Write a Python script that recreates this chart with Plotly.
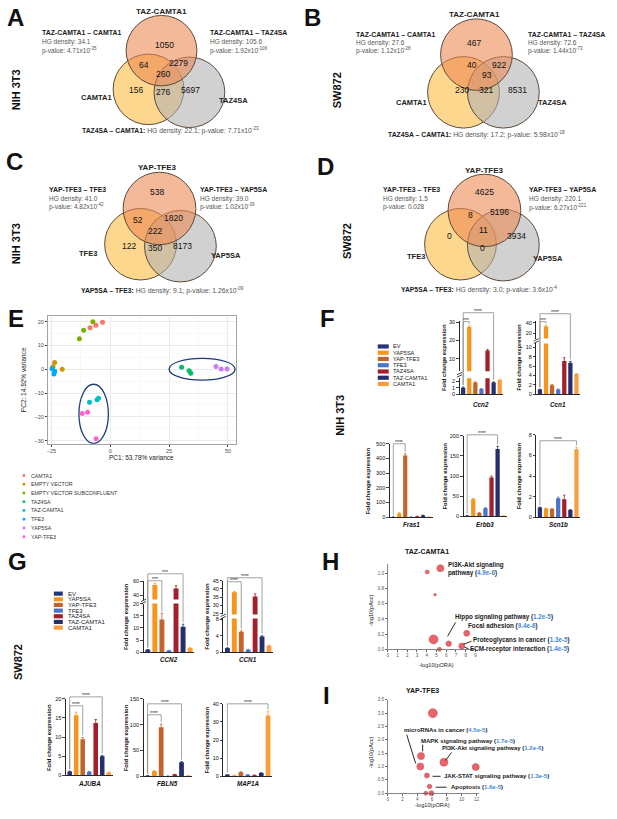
import plotly.graph_objects as go

W, H = 617, 819
def PX(x): return x / W
def PY(y): return 1 - y / H
FONT = "Liberation Sans, Arial, sans-serif"

# ===================== DATA =====================
# Venn regions: top only, top&left, top&right, all three, left only, left&right, right only
vennA_sets = ["TAZ-CAMTA1", "CAMTA1", "TAZ4SA"]
vennA_counts = [1050, 64, 2279, 260, 156, 276, 5697]
vennA_hg = ["34.1", "105.6", "22.1"]
vennA_p = ["4.71x10<sup>-35</sup>", "1.92x10<sup>-106</sup>", "7.71x10<sup>-23</sup>"]

vennB_sets = ["TAZ-CAMTA1", "CAMTA1", "TAZ4SA"]
vennB_counts = [467, 40, 922, 93, 230, 321, 8531]
vennB_hg = ["27.6", "72.6", "17.2"]
vennB_p = ["1.12x10<sup>-28</sup>", "1.44x10<sup>-73</sup>", "5.98x10<sup>-18</sup>"]

vennC_sets = ["YAP-TFE3", "TFE3", "YAP5SA"]
vennC_counts = [538, 52, 1820, 222, 122, 350, 8173]
vennC_hg = ["41.0", "39.0", "9.1"]
vennC_p = ["4.82x10<sup>-42</sup>", "1.02x10<sup>-39</sup>", "1.26x10<sup>-09</sup>"]

vennD_sets = ["YAP-TFE3", "TFE3", "YAP5SA"]
vennD_counts = [4625, 8, 5196, 11, 0, 0, 3934]
vennD_hg = ["1.5", "220.1", "3.0"]
vennD_p = ["0.028", "6.27x10<sup>-221</sup>", "3.6x10<sup>-4</sup>"]

# PCA (panel E)
pca_groups = ["CAMTA1", "EMPTY VECTOR", "EMPTY VECTOR SUBCONFLUENT", "TAZ4SA",
              "TAZ-CAMTA1", "TFE3", "YAP5SA", "YAP-TFE3"]
pca_pc1 = [[-8.6, -6.1, -3.3], [-23.6, -20.4, -24.3], [-13.1, -11.3, -7.4], [30.3, 33.5, 34.2],
           [-8.8, -5.6, -5.0], [-24.7, -23.6, -23.9], [44.9, 47.1, 49.6], [-11.9, -9.6, -6.0]]
pca_pc2 = [[17.4, 18.5, 19.7], [2.8, 0.0, 1.0], [12.8, 16.4, 20.0], [0.8, -0.6, -1.7],
           [-13.9, -12.8, -12.2], [0.2, -0.8, -2.0], [1.2, 0.1, 0.1], [-18.6, -18.1, -29.2]]
pca_var = ["53.78", "14.92"]

# qPCR bars
conditions = ["EV", "YAP5SA", "YAP-TFE3", "TFE3", "TAZ4SA", "TAZ-CAMTA1", "CAMTA1"]
ccn2_f = [1.0, 27.5, 1.8, 0.8, 14.5, 1.8, 2.2]
ccn2_f_err = [0.1, 0.6, 0.1, 0.05, 0.6, 0.1, 0.1]
ccn1_f = [1.0, 33.0, 1.9, 1.0, 7.1, 6.7, 4.3]
ccn1_f_err = [0.05, 2.0, 0.2, 0.1, 0.7, 0.3, 0.1]
fras1_f = [1.0, 25, 420, 1.0, 5, 12, 1.0]
fras1_f_err = [0.2, 5, 12, 0.2, 1, 2, 0.2]
erbb3_f = [1.0, 42, 8, 20, 96, 167, 1.0]
erbb3_f_err = [0.1, 2, 1.5, 1.5, 4, 7, 0.1]
scn1b_f = [0.95, 0.85, 0.8, 1.85, 1.75, 0.7, 6.6]
scn1b_f_err = [0.03, 0.03, 0.03, 0.1, 0.4, 0.03, 0.2]

ccn2_g = [1.0, 55, 13.5, 0.7, 50, 10.5, 1.7]
ccn2_g_err = [0.1, 2.5, 2.5, 0.1, 4, 1.0, 0.2]
ccn1_g = [1.0, 38, 5.0, 0.6, 35.5, 3.8, 1.6]
ccn1_g_err = [0.1, 0.5, 0.2, 0.1, 1.5, 0.2, 0.1]
ajuba_g = [1.0, 15.7, 9.4, 0.9, 13.7, 5.0, 0.7]
ajuba_g_err = [0.1, 0.8, 0.5, 0.1, 0.9, 0.2, 0.1]
fbln5_g = [1.0, 10, 95, 0.5, 3.5, 27, 1.0]
fbln5_g_err = [0.1, 1, 6, 0.1, 0.3, 1.5, 0.1]
map1a_g = [0.8, 0.5, 2.3, 0.8, 0.6, 1.8, 33.5]
map1a_g_err = [0.1, 0.1, 0.2, 0.1, 0.1, 0.2, 2.5]

# Pathway enrichment (H, I)
H_x = [5.4, 4.05, 4.85, 4.7, 6.25, 8.1, 7.6, 5.3]
H_y = [1.07, 1.02, 0.72, 0.13, 0.073, 0.21, 0.043, 0.0]
H_size = [7, 4, 2.5, 9, 5.5, 6, 6, 4]
H_terms = ["PI3K-Akt signaling pathway", "Hippo signaling pathway", "Focal adhesion",
           "Proteoglycans in cancer", "ECM-receptor interaction"]
H_pvals = ["4.9e-6", "1.2e-5", "9.4e-6", "1.3e-5", "1.4e-5"]

I_x = [6.1, 4.5, 4.4, 7.6, 11.9, 5.3, 5.65, 5.15, 5.9]
I_y = [3.0, 1.39, 1.0, 1.16, 0.98, 0.66, 0.25, 0.0, 0.0]
I_size = [9, 7, 7, 8, 7, 5, 4.5, 4, 5]
I_terms = ["microRNAs in cancer", "MAPK signaling pathway", "PI3K-Akt signaling pathway",
           "JAK-STAT signaling pathway", "Apoptosis"]
I_pvals = ["4.5e-5", "1.7e-5", "1.2e-6", "1.3e-5", "1.6e-5"]

# ===================== STYLE / LAYOUT =====================
pca_colors = ["#F8766D", "#CD9600", "#7CAE00", "#00BE67", "#00BFC4", "#00A9FF", "#C77CFF", "#FF61CC"]
cond_colors = ["#27337A", "#F7941D", "#C1652B", "#4A74C9", "#A21F2B", "#262E6B", "#F89C3C"]

ann, shp = [], []

def text(x, y, s, size=7, color="#222", bold=False, italic=False, xanchor="center",
         yanchor="middle", angle=0):
    if bold:
        s = "<b>" + s + "</b>"
    if italic:
        s = "<i>" + s + "</i>"
    ann.append(dict(x=PX(x), y=PY(y), xref="paper", yref="paper", text=s, showarrow=False,
                    font=dict(family=FONT, size=size, color=color), xanchor=xanchor,
                    yanchor=yanchor, textangle=angle, align="left", borderpad=0))

def pline(x0, y0, x1, y1, color="#111", width=0.8):
    shp.append(dict(type="line", xref="paper", yref="paper", x0=PX(x0), y0=PY(y0),
                    x1=PX(x1), y1=PY(y1), line=dict(color=color, width=width)))

fig = go.Figure()
axes_layout = {}
n_ax = [0]

def new_axes(x0, x1, ytop, ybot, xcfg, ycfg):
    n_ax[0] += 1
    s = "" if n_ax[0] == 1 else str(n_ax[0])
    axes_layout["xaxis" + s] = dict(domain=[PX(x0), PX(x1)], anchor="y" + s, **xcfg)
    axes_layout["yaxis" + s] = dict(domain=[PY(ybot), PY(ytop)], anchor="x" + s, **ycfg)
    return "x" + s, "y" + s

# ---------- Venn ----------
venn_layouts = [
    dict(sets=vennA_sets, counts=vennA_counts, hg=vennA_hg, p=vennA_p,
         top=(161, 48, 35.5), left=(148, 87, 35.5), right=(189, 90, 35.5),
         nums=[(164, 42), (143, 62), (178, 60), (163, 72), (135, 88), (163, 90), (190, 88)],
         title=(161, 9), lab_l=(112, 95), lab_r=(218, 98), blk_l=40, blk_r=209, blk_y=(30, 39, 48),
         bottom=(170, 128)),
    dict(sets=vennB_sets, counts=vennB_counts, hg=vennB_hg, p=vennB_p,
         top=(477, 52, 36), left=(464, 90, 36), right=(504, 90, 36),
         nums=[(475, 40), (473, 62), (500, 62), (488, 73), (462, 88), (487, 88), (518, 88)],
         title=(475, 12), lab_l=(428, 100), lab_r=(538, 100), blk_l=355, blk_r=528,
         blk_y=(32, 40, 48), bottom=(477, 132)),
    dict(sets=vennC_sets, counts=vennC_counts, hg=vennC_hg, p=vennC_p,
         top=(159, 207, 36.5), left=(140, 243, 36), right=(180, 245, 36),
         nums=[(157, 190), (137, 219), (173, 217), (155, 230), (128, 245), (155, 247), (182, 245)],
         title=(157, 166), lab_l=(97, 252), lab_r=(210, 254), blk_l=47, blk_r=199,
         blk_y=(188, 197, 205), bottom=(162, 290)),
    dict(sets=vennD_sets, counts=vennD_counts, hg=vennD_hg, p=vennD_p,
         top=(485, 209, 36.5), left=(461, 243, 36), right=(504, 244, 36),
         nums=[(485, 190), (471, 214), (500, 211), (484, 229), (450, 235), (483, 247), (517, 235)],
         title=(485, 169), lab_l=(426, 255), lab_r=(533, 257), blk_l=382, blk_r=529,
         blk_y=(188, 197, 206), bottom=(480, 289)),
]
venn_fills = ["rgba(253,200,100,0.72)", "rgba(175,175,175,0.58)", "rgba(236,135,80,0.58)"]
for L in venn_layouts:
    for (cx, cy, r), fc in zip([L["left"], L["right"], L["top"]], venn_fills):
        shp.append(dict(type="circle", xref="paper", yref="paper", x0=PX(cx - r), x1=PX(cx + r),
                        y0=PY(cy + r), y1=PY(cy - r), fillcolor=fc,
                        line=dict(color="#5a4a3c", width=1), layer="above"))
    for (x, y), c in zip(L["nums"], L["counts"]):
        text(x, y, str(c), size=8.5, color="#111")
    sets, hg, p = L["sets"], L["hg"], L["p"]
    text(*L["title"], sets[0], size=8, bold=True)
    text(*L["lab_l"], sets[1], size=7.5, bold=True, xanchor="right")
    text(*L["lab_r"], sets[2], size=7.5, bold=True, xanchor="left")
    for bx, k, other in [(L["blk_l"], 0, sets[1]), (L["blk_r"], 1, sets[2])]:
        y1, y2, y3 = L["blk_y"]
        text(bx, y1, sets[0] + " – " + other, size=6.9, bold=True, xanchor="left", color="#1a1a1a")
        text(bx, y2, "HG density: " + hg[k], size=6.5, xanchor="left", color="#555")
        text(bx, y3, "p-value: " + p[k], size=6.5, xanchor="left", color="#555")
    text(*L["bottom"], "<b>" + sets[2] + " – " + sets[1] + ":</b><span style='color:#555'> HG density: "
         + hg[2] + "; p-value: " + p[2] + "</span>", size=6.8, color="#1a1a1a")

# ---------- PCA ----------
grid_common = dict(showgrid=True, gridcolor="#E6E6E6", gridwidth=0.8, zeroline=False,
                   showline=True, mirror=True, linecolor="#8C8C8C", linewidth=0.8,
                   ticks="outside", ticklen=2, tickcolor="#444",
                   tickfont=dict(size=5.5, color="#4D4D4D"), fixedrange=True)
ex = dict(range=[-26.5, 53.5], tickvals=[-25, 0, 25, 50],
          minor=dict(tickvals=[-12.5, 12.5, 37.5], showgrid=True, gridcolor="#F2F2F2", gridwidth=0.5),
          **grid_common)
ey = dict(range=[-31.3, 22.5], tickvals=[-30, -20, -10, 0, 10, 20],
          minor=dict(tickvals=[-25, -15, -5, 5, 15], showgrid=True, gridcolor="#F2F2F2", gridwidth=0.5),
          **grid_common)
xa, ya = new_axes(47, 236, 315, 444, ex, ey)
for g, c, xs, ys in zip(pca_groups, pca_colors, pca_pc1, pca_pc2):
    fig.add_trace(go.Scatter(x=xs, y=ys, mode="markers", name=g, xaxis=xa, yaxis=ya,
                             marker=dict(size=5, color=c, line=dict(width=0)), showlegend=False))
for (ex0, ex1, ey0, ey1) in [(25.0, 53.0, -4.6, 4.6), (-13.3, -0.8, -31.2, -6.3)]:
    shp.append(dict(type="circle", xref=xa, yref=ya, x0=ex0, x1=ex1, y0=ey0, y1=ey1,
                    line=dict(color="#1F3A7A", width=1.3)))
text(141, 458, "PC1: " + pca_var[0] + "% variance", size=6.5, color="#222")
text(22, 379, "PC2: " + pca_var[1] + "% variance", size=6.5, color="#222", angle=-90)
for i, (g, c) in enumerate(zip(pca_groups, pca_colors)):
    y = 476 + 8.8 * i
    shp.append(dict(type="circle", xref="paper", yref="paper", x0=PX(21.5), x1=PX(24.5),
                    y0=PY(y + 1.5), y1=PY(y - 1.5), fillcolor=c, line=dict(width=0)))
    text(29, y, g, size=5.3, color="#333", xanchor="left")

# ---------- Bar charts ----------
XR = (-0.6, 6.6)

def seg_px(seg, v):
    top, bot, lo, hi, _ = seg
    v = min(max(v, lo), hi)
    return bot - (v - lo) / (hi - lo) * (bot - top)

def top_px(segs, v):
    for s in segs:
        if v >= s[2]:
            return seg_px(s, v)
    return seg_px(segs[-1], v)

bar_layouts = [
    dict(vals=ccn2_f, errs=ccn2_f_err, gene="Ccn2", x=(460, 504),
         segs=[(320, 371, 3, 31, [10, 20, 30]), (378, 394, 0, 2.46, [0, 1, 2])],
         gene_y=404, tdx=15, br=[(0, 1, 321, "***"), (0, 5, 312, "****")]),
    dict(vals=ccn1_f, errs=ccn1_f_err, gene="Ccn1", x=(537, 581),
         segs=[(320, 338, 10, 44, [20, 40]), (343, 394, 0, 10.85, [0, 2, 4, 6, 8, 10])],
         gene_y=404, tdx=17, br=[(0, 1, 321, "***"), (0, 5, 313, "****")]),
    dict(vals=fras1_f, errs=fras1_f_err, gene="Fras1", x=(390, 433),
         segs=[(444, 518, 0, 500, [0, 100, 200, 300, 400, 500])],
         gene_y=525, tdx=21, br=[(0, 2, 444, "****")]),
    dict(vals=erbb3_f, errs=erbb3_f_err, gene="Erbb3", x=(464, 508),
         segs=[(436, 517, 0, 200, [0, 50, 100, 150, 200])],
         gene_y=525, tdx=19, br=[(0, 5, 435, "****")]),
    dict(vals=scn1b_f, errs=scn1b_f_err, gene="Scn1b", x=(537, 581),
         segs=[(435, 518, 0, 8, [0, 2, 4, 6, 8])],
         gene_y=525, tdx=17, br=[(0, 6, 441, "****")]),
    dict(vals=ccn2_g, errs=ccn2_g_err, gene="CCN2", x=(143, 194),
         segs=[(582, 601, 34, 61, [40, 60]), (605, 654, 0, 20, [0, 5, 10, 15, 20])],
         gene_y=661, tdx=17, br=[(0, 2, 582, "***"), (0, 5, 575, "***")]),
    dict(vals=ccn1_g, errs=ccn1_g_err, gene="CCN1", x=(223, 273),
         segs=[(582, 616, 24.5, 45, [25, 30, 35, 40, 45]), (620, 654, 0, 8.2, [0, 4, 8])],
         gene_y=661, tdx=16, br=[(0, 2, 583, "****"), (0, 5, 579, "****")]),
    dict(vals=ajuba_g, errs=ajuba_g_err, gene="AJUBA", x=(65, 112),
         segs=[(701, 778, 0, 20, [0, 5, 10, 15, 20])],
         gene_y=786, tdx=17, br=[(0, 2, 708, "****"), (0, 5, 699, "****")]),
    dict(vals=fbln5_g, errs=fbln5_g_err, gene="FBLN5", x=(143, 192),
         segs=[(701, 779, 0, 150, [0, 50, 100, 150])],
         gene_y=786, tdx=18, br=[(0, 2, 717, "****"), (0, 5, 706, "****")]),
    dict(vals=map1a_g, errs=map1a_g_err, gene="MAP1A", x=(223, 272),
         segs=[(706, 779, 0, 40, [0, 10, 20, 30, 40])],
         gene_y=786, tdx=16, br=[(0, 6, 706, "****")]),
]

for B in bar_layouts:
    x0, x1 = B["x"]
    nseg = len(B["segs"])
    for k, seg in enumerate(B["segs"]):
        top, bot, lo, hi, tv = seg
        is_lower = (k == nseg - 1)
        xcfg = dict(type="category", categoryorder="array", categoryarray=conditions,
                    range=list(XR), showticklabels=False, ticks="", showgrid=False,
                    zeroline=False, showline=is_lower, linecolor="#111", linewidth=0.9,
                    fixedrange=True)
        ycfg = dict(range=[lo, hi], tickvals=tv, showgrid=False, zeroline=False,
                    showline=True, linecolor="#111", linewidth=0.9, ticks="outside",
                    ticklen=2.5, tickwidth=0.8, tickcolor="#111",
                    tickfont=dict(size=5.5, color="#111"), fixedrange=True)
        bxa, bya = new_axes(x0, x1, top, bot, xcfg, ycfg)
        for i, c in enumerate(conditions):
            fig.add_trace(go.Bar(x=[c], y=[B["vals"][i]], xaxis=bxa, yaxis=bya, width=0.7,
                                 marker=dict(color=cond_colors[i], line=dict(width=0)),
                                 error_y=dict(type="data", array=[B["errs"][i]], visible=True,
                                              color=cond_colors[i], thickness=0.8, width=1.2),
                                 showlegend=False, name=c))
        if not is_lower:
            # axis-break marks
            nxt_top = B["segs"][k + 1][0]
            yg = (bot + nxt_top) / 2
            for dy in (-1.2, 1.2):
                pline(x0 - 2.5, yg + dy + 1.2, x0 + 2.5, yg + dy - 1.2, color="#111", width=0.8)
    ytop_all = B["segs"][0][0]
    ybot_all = B["segs"][-1][1]
    text(x0 - B["tdx"], (ytop_all + ybot_all) / 2, "Fold change expression", size=5.8,
         bold=True, color="#111", angle=-90)
    text((x0 + x1) / 2, B["gene_y"], B["gene"], size=6.3, bold=True, italic=True, color="#111")

    def cat_px(i):
        return x0 + (i - XR[0]) / (XR[1] - XR[0]) * (x1 - x0)

    for (i0, i1, ypx, stars) in B["br"]:
        for ii in (i0, i1):
            yb = top_px(B["segs"], B["vals"][ii] + B["errs"][ii]) - 2
            pline(cat_px(ii), ypx, cat_px(ii), yb, color="#8a8a8a", width=0.8)
        pline(cat_px(i0), ypx, cat_px(i1), ypx, color="#8a8a8a", width=0.8)
        text((cat_px(i0) + cat_px(i1)) / 2, ypx - 1.8, stars, size=5, color="#222")

# bar legends
for (sx0, sx1, tx, y0, dy, fs) in [(378, 389, 392, 346, 6.3, 5.6), (53, 62, 66, 595, 5.7, 6.0)]:
    for i, c in enumerate(conditions):
        y = y0 + dy * i
        shp.append(dict(type="rect", xref="paper", yref="paper", x0=PX(sx0), x1=PX(sx1),
                        y0=PY(y + 2.1), y1=PY(y - 2.1), fillcolor=cond_colors[i], line=dict(width=0)))
        text(tx, y, c, size=fs, color="#222", xanchor="left")

# ---------- Enrichment scatter ----------
def enrich_axes(x0, x1, ytop, ybot, xr, xt, yr, yt, yfmt):
    xcfg = dict(range=xr, tickvals=xt, showgrid=False, zeroline=False, showline=True,
                linecolor="#666", linewidth=0.8, ticks="outside", ticklen=2, tickcolor="#666",
                tickfont=dict(size=4.5, color="#555"), fixedrange=True)
    ycfg = dict(range=yr, tickvals=yt, ticktext=[yfmt.format(v) for v in yt], showgrid=False,
                zeroline=False, showline=True, linecolor="#666", linewidth=0.8, ticks="outside",
                ticklen=2, tickcolor="#666", tickfont=dict(size=4.5, color="#555"), fixedrange=True)
    return new_axes(x0, x1, ytop, ybot, xcfg, ycfg)

hxa, hya = enrich_axes(388, 477, 565, 651, [0, 9.1], list(range(10)), [0, 1.127],
                       [0, 0.2, 0.4, 0.6, 0.8, 1.0], "{:.1f}")
fig.add_trace(go.Scatter(x=H_x, y=H_y, mode="markers", xaxis=hxa, yaxis=hya, cliponaxis=False,
                         marker=dict(size=H_size, color="#E4202A", line=dict(color="#A8161B", width=0.6)),
                         showlegend=False))
ixa, iya = enrich_axes(388, 480, 702, 796, [0, 12.4], [0, 2, 4, 6, 8, 10, 12], [0, 3.5],
                       [0, 0.5, 1.0, 1.5, 2.0, 2.5, 3.0, 3.5], "{:.1f}")
fig.add_trace(go.Scatter(x=I_x, y=I_y, mode="markers", xaxis=ixa, yaxis=iya, cliponaxis=False,
                         marker=dict(size=I_size, color="#E4202A", line=dict(color="#A8161B", width=0.6)),
                         showlegend=False))

def term_label(term, pv, wrap=False):
    t = term.replace(" pathway", "<br>pathway") if wrap else term
    return ("<b>" + t + " (</b><span style='color:#3F88D6'><b>" + pv + "</b></span><b>)</b>")

H_label_pos = [(447, 570, True), (454, 619, False), (468, 628, False), (473, 642, False), (470, 650.5, False)]
for (x, y, wrap), term, pv in zip(H_label_pos, H_terms, H_pvals):
    text(x, y, term_label(term, pv, wrap), size=6.3, color="#1a1a1a", xanchor="left")
for (a, b, c, d) in [(448, 638, 456, 624), (464, 646, 472, 643), (465, 649, 469, 650.5)]:
    pline(a, b, c, d, color="#111", width=0.9)

I_label_pos = [(403, 732), (420, 743), (441, 751), (443, 779), (450, 789.5)]
for (x, y), term, pv in zip(I_label_pos, I_terms, I_pvals):
    text(x, y, term_label(term, pv), size=6.0, color="#1a1a1a", xanchor="left")
for (a, b, c, d) in [(407, 737, 416, 766), (423, 747, 423, 754), (452, 755, 446, 763),
                     (433, 779, 441, 779), (436, 790, 447, 790)]:
    pline(a, b, c, d, color="#111", width=0.9)

text(427, 553, "TAZ-CAMTA1", size=7, bold=True, color="#111")
text(423, 693, "YAP-TFE3", size=7, bold=True, color="#111")
text(371, 612, "-log10(pAcc)", size=5.6, color="#222", angle=-90)
text(437, 667, "-log10(pORA)", size=5.6, color="#222")
text(372, 755, "-log10(pAcc)", size=5.6, color="#222", angle=-90)
text(433, 808, "-log10(pORA)", size=5.6, color="#222")

# ---------- Panel letters and row labels ----------
for (lx, ly, L) in [(5, 15, "A"), (303, 15, "B"), (4, 160, "C"), (316, 165, "D"), (6, 318, "E"),
                    (319, 318, "F"), (6, 563, "G"), (321, 563, "H"), (322, 698, "I")]:
    text(lx, ly, L, size=24, bold=True, color="#111", xanchor="left")
for (rx, ry, s) in [(15, 87, "NIH 3T3"), (337, 88, "SW872"), (15, 242, "NIH 3T3"),
                    (347, 240, "SW872"), (340, 415, "NIH 3T3"), (17, 664, "SW872")]:
    text(rx, ry, s, size=11, bold=True, color="#111", angle=-90)

fig.update_layout(width=W, height=H, margin=dict(l=0, r=0, t=0, b=0, pad=0),
                  paper_bgcolor="white", plot_bgcolor="white", showlegend=False,
                  barmode="overlay", font=dict(family=FONT), annotations=ann, shapes=shp,
                  **axes_layout)
fig.write_html("out.html", config={"displayModeBar": False, "staticPlot": True},
               post_script="document.body.style.margin='0';document.body.style.padding='0';")
